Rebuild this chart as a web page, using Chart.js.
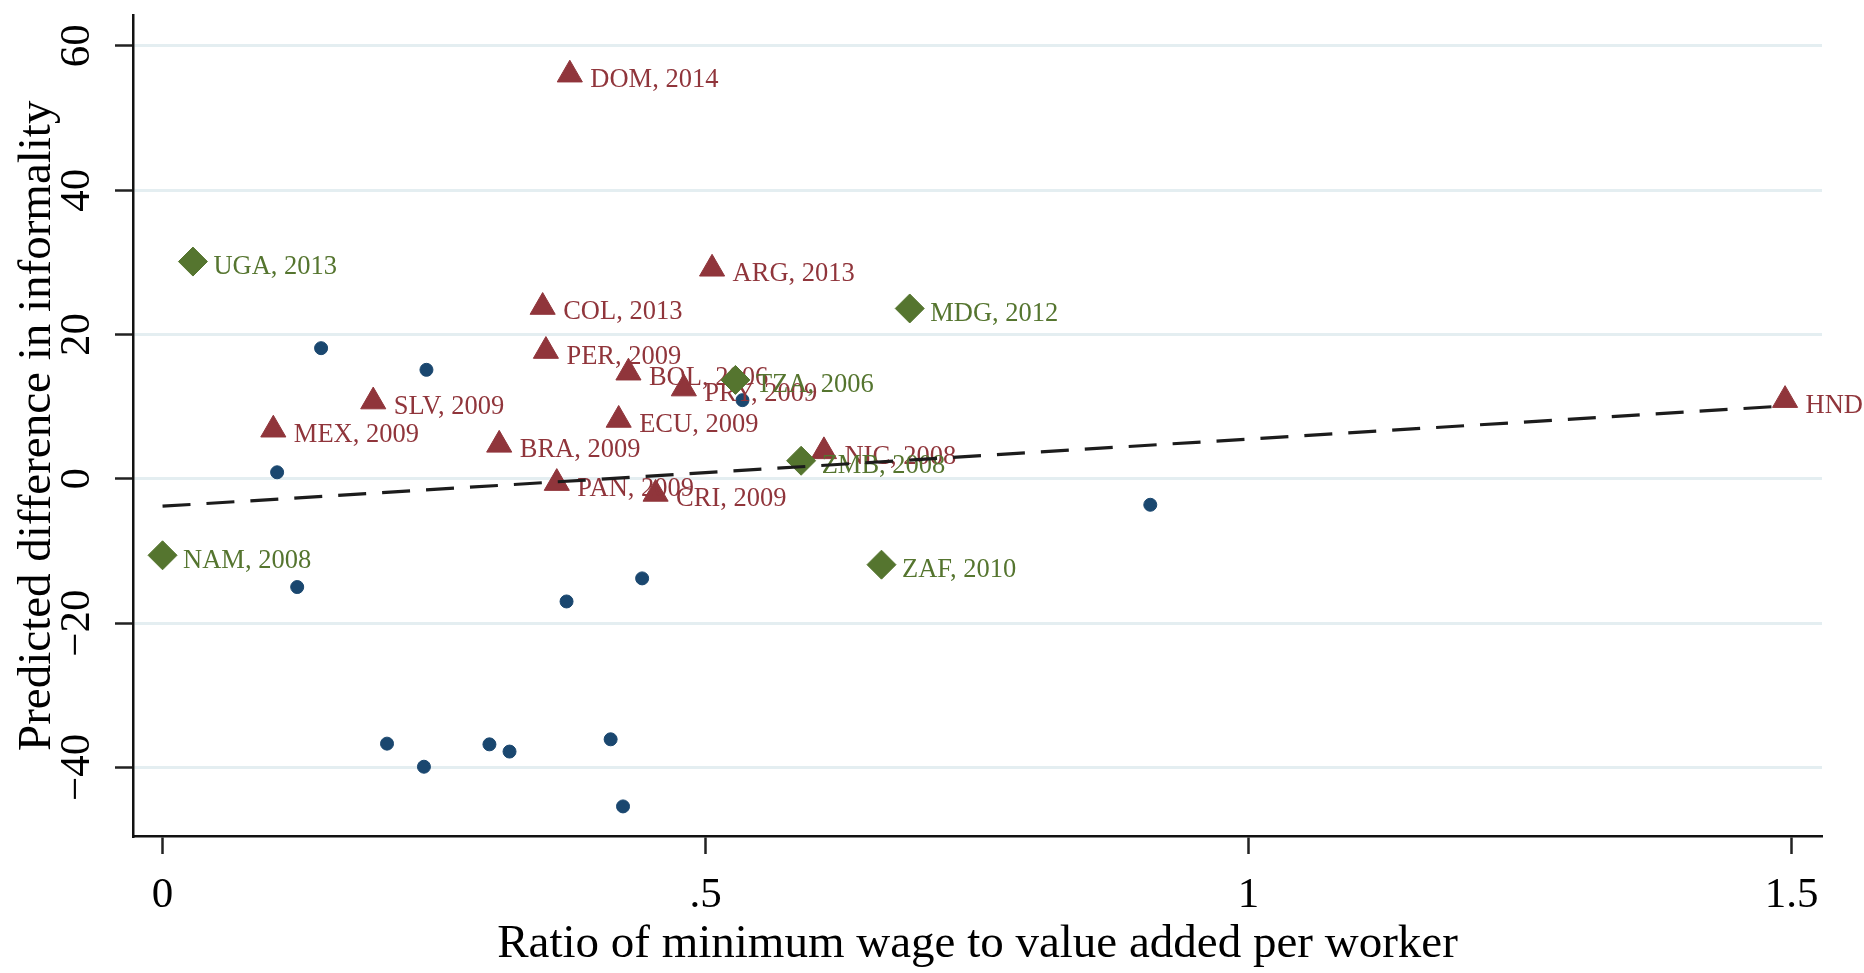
<!DOCTYPE html>
<html>
<head>
<meta charset="utf-8">
<title>Minimum wage and informality</title>
<script src="https://cdn.jsdelivr.net/npm/chart.js@4.4.1/dist/chart.umd.min.js"></script>
<style>
    html, body { margin: 0; padding: 0; background: #ffffff; }
    #wrap { width: 1864px; height: 973px; }
</style>
</head>
<body>
<div id="wrap"><canvas id="graficoInformalidade" width="1864" height="973"></canvas></div>
<script>
// América Latina (triângulos vermelhos)
const latinoRotulos = ["DOM, 2014", "ARG, 2013", "COL, 2013", "PER, 2009", "BOL, 2006", "PRY, 2009", "SLV, 2009",
    "ECU, 2009", "MEX, 2009", "BRA, 2009", "NIC, 2008", "PAN, 2009", "CRI, 2009", "HND, 2009"];
const latinoX = [0.375, 0.506, 0.350, 0.353, 0.429, 0.480, 0.194, 0.420, 0.102, 0.310, 0.609, 0.363, 0.454, 1.494];
const latinoY = [56.0, 29.1, 23.8, 17.7, 14.7, 12.5, 10.7, 8.15, 6.8, 4.7, 3.8, -0.6, -2.1, 10.9];

// África (losangos verdes)
const africaRotulos = ["UGA, 2013", "MDG, 2012", "TZA, 2006", "ZMB, 2008", "NAM, 2008", "ZAF, 2010"];
const africaX = [0.028, 0.688, 0.5275, 0.588, 0.0, 0.662];
const africaY = [30.1, 23.6, 13.7, 2.5, -10.6, -11.9];

// Demais países, sem rótulo (pontos azuis)
const outrosX = [0.146, 0.243, 0.534, 0.1055, 0.124, 0.4416, 0.372, 0.9095, 0.2067, 0.2407, 0.301, 0.3195, 0.4126, 0.424];
const outrosY = [18.1, 15.1, 10.9, 0.9, -15.0, -13.8, -17.0, -3.6, -36.7, -39.9, -36.8, -37.8, -36.1, -45.4];

// Reta ajustada (extremos)
const ajusteX = [0.0, 1.494];
const ajusteY = [-3.8, 10.1];

// Marcas dos eixos
const ticksX = [0, 0.5, 1, 1.5];
const ticksY = [-40, -20, 0, 20, 40, 60];

const fonteSerif = '"Liberation Serif", "Times New Roman", serif';

const pontos = (xs, ys) => xs.map((x, i) => ({ x: x, y: ys[i] }));

// escreve o rótulo de cada país à direita do marcador
const rotulosPontos = {
    id: "rotulosPontos",
    afterDatasetDraw(chart, args) {
        const ds = chart.data.datasets[args.index];
        if (!ds.rotulos) return;
        const ctx = chart.ctx;
        ctx.save();
        ctx.font = "26.5px " + fonteSerif;
        ctx.fillStyle = ds.corRotulo;
        ctx.textAlign = "left";
        ctx.textBaseline = "middle";
        args.meta.data.forEach((ponto, i) => {
            ctx.fillText(ds.rotulos[i], ponto.x + 20.5, ponto.y + 5.5);
        });
        ctx.restore();
    }
};

document.addEventListener("DOMContentLoaded", function () {
    const graficoInformalidade = new Chart(
        document.getElementById("graficoInformalidade"),
        {
            type: "scatter",
            data: {
                datasets: [
                    {
                        type: "line",
                        label: "Fitted values",
                        data: pontos(ajusteX, ajusteY),
                        borderColor: "#1c1c1c",
                        borderWidth: 3.2,
                        borderDash: [28, 16],
                        pointRadius: 0,
                        fill: false,
                        order: 0
                    },
                    {
                        label: "Africa",
                        data: pontos(africaX, africaY),
                        rotulos: africaRotulos,
                        corRotulo: "#55752f",
                        pointStyle: "rectRot",
                        pointRadius: 14.5,
                        backgroundColor: "#55752f",
                        borderColor: "#55752f",
                        borderWidth: 1,
                        order: 1
                    },
                    {
                        label: "Latin America",
                        data: pontos(latinoX, latinoY),
                        rotulos: latinoRotulos,
                        corRotulo: "#90353b",
                        pointStyle: "triangle",
                        pointRadius: 14.5,
                        backgroundColor: "#90353b",
                        borderColor: "#90353b",
                        borderWidth: 1,
                        order: 2
                    },
                    {
                        label: "Other",
                        data: pontos(outrosX, outrosY),
                        pointStyle: "circle",
                        pointRadius: 6.5,
                        backgroundColor: "#1a476f",
                        borderColor: "#1a476f",
                        borderWidth: 1,
                        order: 3
                    }
                ]
            },
            options: {
                responsive: false,
                devicePixelRatio: 1,
                animation: false,
                layout: { padding: { top: 12, right: 42, bottom: 0, left: 0 } },
                plugins: {
                    legend: { display: false },
                    tooltip: { enabled: false }
                },
                scales: {
                    x: {
                        type: "linear",
                        min: -0.0272,
                        max: 1.528,
                        afterBuildTicks: escala => { escala.ticks = ticksX.map(v => ({ value: v })); },
                        afterFit: escala => { escala.height = 137; escala.paddingLeft = 0; escala.paddingRight = 0; },
                        border: { display: true, color: "#111111", width: 2.5 },
                        grid: { drawOnChartArea: false, drawTicks: true, tickLength: 18, tickColor: "#222222", tickWidth: 2.5 },
                        ticks: {
                            color: "#000000",
                            font: { family: fonteSerif, size: 43 },
                            padding: 16,
                            maxRotation: 0,
                            autoSkip: false,
                            callback: v => (v === 0 ? "0" : String(v).replace(/^0\./, "."))
                        },
                        title: {
                            display: true,
                            text: "Ratio of minimum wage to value added per worker",
                            color: "#000000",
                            font: { family: fonteSerif, size: 47 },
                            padding: { top: 0, bottom: 0 }
                        }
                    },
                    y: {
                        type: "linear",
                        min: -49.5,
                        max: 64.2,
                        afterBuildTicks: escala => { escala.ticks = ticksY.map(v => ({ value: v })); },
                        afterFit: escala => { escala.width = 133; escala.paddingTop = 0; escala.paddingBottom = 0; },
                        border: { display: true, color: "#111111", width: 2.5 },
                        grid: { color: "#e4eef1", lineWidth: 3, drawTicks: true, tickLength: 18, tickColor: "#222222", tickWidth: 2.5 },
                        ticks: {
                            color: "#000000",
                            font: { family: fonteSerif, size: 43 },
                            padding: 4,
                            minRotation: 90,
                            maxRotation: 90,
                            crossAlign: "center",
                            autoSkip: false,
                            callback: v => (v < 0 ? "\u2212" + Math.abs(v) : String(v))
                        },
                        title: {
                            display: true,
                            text: "Predicted difference in informality",
                            color: "#000000",
                            font: { family: fonteSerif, size: 47 },
                            padding: { top: 9, bottom: 0 }
                        }
                    }
                }
            },
            plugins: [rotulosPontos]
        }
    );
});
</script>
</body>
</html>
